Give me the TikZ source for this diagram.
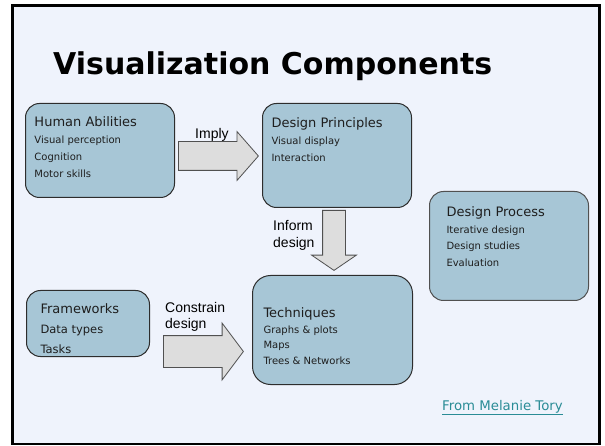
\documentclass[tikz,border=0pt]{standalone}
\usepackage{fontspec}
\setmainfont{DejaVu Sans}
\newfontfamily\labelfont{Liberation Sans}
\usetikzlibrary{shapes.arrows}

\definecolor{slidebg}{RGB}{239,243,252}
\definecolor{boxfill}{RGB}{167,198,214}
\definecolor{boxline}{RGB}{45,45,45}
\definecolor{arrowfill}{RGB}{221,221,221}
\definecolor{arrowline}{RGB}{80,80,80}
\definecolor{linkcol}{RGB}{42,140,150}
\definecolor{textcol}{RGB}{30,30,30}

\newcommand{\headfont}{\fontsize{13}{17}\selectfont}
\newcommand{\itemfont}{\fontsize{10}{17}\selectfont}
% width, height, left pad, top pad, heading, items
\newcommand{\panel}[6]{%
  \parbox[t][#2][t]{#1}{\leftskip=#3\relax
    \vspace*{#4}%
    {\headfont\strut#5\par}%
    #6\par}}

\tikzset{%
compbox/.style={draw=boxline,fill=boxfill,rounded corners=14pt,line width=1pt,anchor=north west,inner sep=0pt,text=textcol},
fatarrow/.style={single arrow,draw=arrowline,fill=arrowfill,line width=0.8pt,inner xsep=0pt,anchor=tail},
arrowlbl/.style={font=\labelfont\fontsize{14}{17}\selectfont,align=left,inner sep=0pt,anchor=base west}
}

\begin{document}
\begin{tikzpicture}[x=1pt,y=-1pt]
  \useasboundingbox (0,0) rectangle (605,446);
  \fill[white] (0,0) rectangle (605,446);
  \draw[line width=2.8pt,fill=slidebg] (12.5,5.3) rectangle (599.5,444);

  \node[anchor=base west,inner sep=0pt,font=\bfseries\fontsize{30}{36}\selectfont] (title) at (53,75) {Visualization Components};

  % the five component boxes
  \node[compbox] (human) at (25,103) {\panel{149pt}{94pt}{9pt}{11pt}{Human Abilities}{\itemfont Visual perception\par Cognition\par Motor skills}};
  \node[compbox] (principles) at (262,103) {\panel{149pt}{104pt}{9pt}{12pt}{Design Principles}{\itemfont Visual display\par Interaction}};
  \node[compbox,draw=arrowline] (process) at (429,191) {\panel{159pt}{109pt}{17pt}{13pt}{Design Process}{\fontsize{10}{16.7}\selectfont Iterative design\par Design studies\par Evaluation}};
  \node[compbox] (frameworks) at (26,290) {\panel{123pt}{66pt}{14pt}{11pt}{Frameworks}{\fontsize{11.5}{20}\selectfont Data types\par Tasks}};
  \node[compbox,rounded corners=18pt] (techniques) at (252,275) {\panel{160pt}{109pt}{11pt}{30pt}{Techniques}{\fontsize{10}{15.7}\selectfont Graphs \& plots\par Maps\par Trees \& Networks}};

  % block arrows between them
  \node[fatarrow,minimum height=80pt,inner ysep=14pt,single arrow head extend=10pt,single arrow tip angle=97.6] (imply) at (178,156) {};
  \node[fatarrow,shape border rotate=270,minimum height=60pt,inner ysep=0pt,inner xsep=11pt,single arrow head extend=11pt,single arrow tip angle=111.4] (inform) at (334,210) {};
  \node[fatarrow,minimum height=80pt,inner ysep=15.5pt,single arrow head extend=12.5pt,single arrow tip angle=106.3] (constrain) at (163,351.5) {};

  \node[arrowlbl] (implylbl) at (195,139) {Imply};
  \node[arrowlbl] (informlbl) at (273,248) {Inform\\design};
  \node[arrowlbl] (constrainlbl) at (165,329) {Constrain\\design};

  \node[anchor=base west,inner sep=0pt,text=linkcol,font=\fontsize{13.3}{16}\selectfont] (source) at (442,410) {\underline{From Melanie Tory}};
\end{tikzpicture}
\end{document}
